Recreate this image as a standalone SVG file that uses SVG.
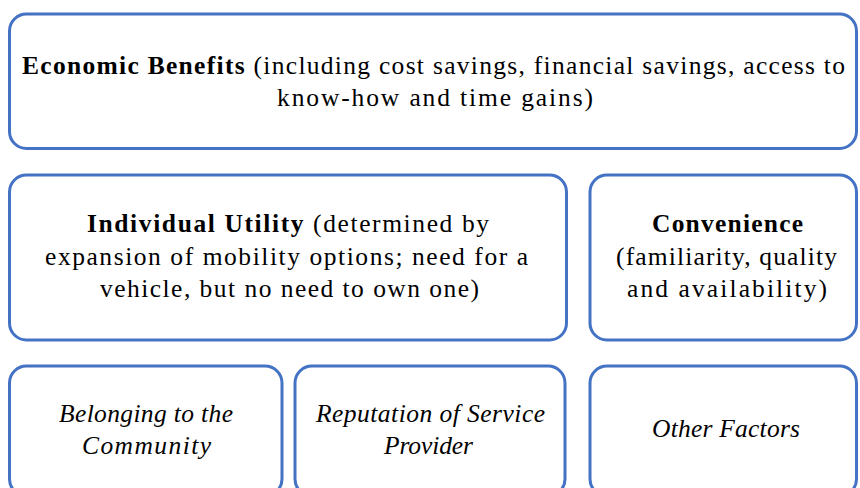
<svg xmlns="http://www.w3.org/2000/svg" width="860" height="488" viewBox="0 0 860 488">
  <style>
    .box { fill: #ffffff; stroke: #4472C4; stroke-width: 3; }
    .lbl { font-family: "Liberation Serif", serif; font-size: 25.5px; fill: #000000; }
    .b { font-weight: bold; }
    .i { font-style: italic; }
  </style>
  <rect width="860" height="488" fill="#ffffff"/>

  <!-- top factor -->
  <g id="economic-benefits">
    <rect class="box" x="9.5" y="14" width="847" height="134.5" rx="17" ry="17"/>
    <text class="lbl" x="22" y="74" textLength="823" lengthAdjust="spacing"><tspan class="b">Economic Benefits</tspan> (including cost savings, financial savings, access to</text>
    <text class="lbl" x="277" y="106" textLength="316" lengthAdjust="spacing">know-how and time gains)</text>
  </g>

  <!-- second row -->
  <g id="individual-utility">
    <rect class="box" x="9.5" y="175" width="557" height="165" rx="17" ry="17"/>
    <text class="lbl" x="87" y="232" textLength="402" lengthAdjust="spacing"><tspan class="b">Individual Utility</tspan> (determined by</text>
    <text class="lbl" x="45" y="264.5" textLength="483" lengthAdjust="spacing">expansion of mobility options; need for a</text>
    <text class="lbl" x="100" y="297" textLength="379" lengthAdjust="spacing">vehicle, but no need to own one)</text>
  </g>

  <g id="convenience">
    <rect class="box" x="590" y="175" width="266.5" height="165" rx="17" ry="17"/>
    <text class="lbl b" x="652" y="232" textLength="151" lengthAdjust="spacing">Convenience</text>
    <text class="lbl" x="616" y="264.5" textLength="221" lengthAdjust="spacing">(familiarity, quality</text>
    <text class="lbl" x="627" y="297" textLength="200" lengthAdjust="spacing">and availability)</text>
  </g>

  <!-- third row -->
  <g id="belonging">
    <rect class="box" x="9.5" y="366" width="272.5" height="130" rx="17" ry="17"/>
    <text class="lbl i" x="59" y="421.5" textLength="174" lengthAdjust="spacing">Belonging to the</text>
    <text class="lbl i" x="82" y="454" textLength="129" lengthAdjust="spacing">Community</text>
  </g>

  <g id="reputation">
    <rect class="box" x="295" y="366" width="270" height="130" rx="17" ry="17"/>
    <text class="lbl i" x="316" y="421.5" textLength="229" lengthAdjust="spacing">Reputation of Service</text>
    <text class="lbl i" x="384" y="454" textLength="89" lengthAdjust="spacing">Provider</text>
  </g>

  <g id="other-factors">
    <rect class="box" x="590" y="366" width="266.5" height="130" rx="17" ry="17"/>
    <text class="lbl i" x="652" y="437" textLength="148" lengthAdjust="spacing">Other Factors</text>
  </g>
</svg>
